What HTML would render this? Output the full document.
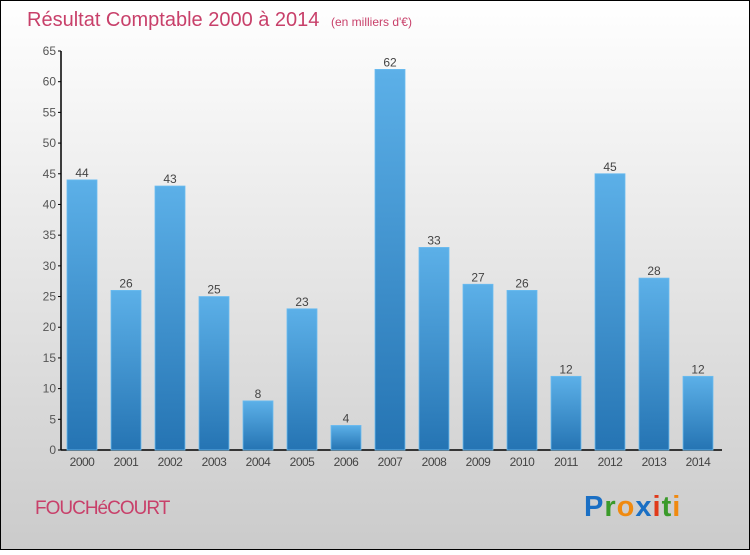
<!DOCTYPE html>
<html><head><meta charset="utf-8"><style>
html,body{margin:0;padding:0}
body{width:750px;height:550px;overflow:hidden;font-family:"Liberation Sans",sans-serif}
</style></head><body>
<svg width="750" height="550" xmlns="http://www.w3.org/2000/svg">
<defs>
<linearGradient id="bg" x1="0" y1="0" x2="0" y2="1"><stop offset="0" stop-color="#ffffff"/><stop offset="1" stop-color="#cbcbcb"/></linearGradient>
<linearGradient id="bar" x1="0" y1="0" x2="0" y2="1"><stop offset="0" stop-color="#5cb0e8"/><stop offset="1" stop-color="#2574b3"/></linearGradient>
</defs>
<rect x="0.5" y="0.5" width="749" height="549" fill="url(#bg)" stroke="#000"/>
<text x="27" y="26" font-size="20" fill="#c8406a">Résultat Comptable 2000 à 2014 <tspan font-size="12" dx="6">(en milliers d'€)</tspan></text>
<g id="axes"></g>
<g id="bars"></g>
<text x="35" y="514" font-size="19" fill="#c8406a" letter-spacing="-1">FOUCHéCOURT</text>
<g font-size="29" font-weight="bold" font-family="'Liberation Sans',sans-serif">
<text x="584" y="516" letter-spacing="1"><tspan fill="#1a6fc4">P</tspan><tspan fill="#3a9a2a">r</tspan><tspan fill="#f08a10">o</tspan><tspan fill="#1a6fc4">x</tspan><tspan fill="#e03a1a">i</tspan><tspan fill="#3a9a2a">t</tspan><tspan fill="#f08a10">i</tspan></text>
</g>
</svg>
<script>
const years=["2000","2001","2002","2003","2004","2005","2006","2007","2008","2009","2010","2011","2012","2013","2014"];
const values=[44,26,43,25,8,23,4,62,33,27,26,12,45,28,12];
const yTicks=[0,5,10,15,20,25,30,35,40,45,50,55,60,65];
const NS="http://www.w3.org/2000/svg";
const y0=450,yTop=51,yMax=65;
function yScale(v){return y0-(v/yMax)*(y0-yTop);}
function xScale(i){return 67+44*i;}
function mk(tag,attrs,parent){const e=document.createElementNS(NS,tag);for(const k in attrs)e.setAttribute(k,attrs[k]);parent.appendChild(e);return e;}
const axes=document.getElementById('axes'),bars=document.getElementById('bars');
let l=mk('line',{x1:61,y1:yTop,x2:61,y2:y0,stroke:'#000','stroke-width':1.5},axes);


l=mk('line',{x1:61,y1:y0,x2:722,y2:y0,stroke:'#000','stroke-width':1.5},axes);


yTicks.forEach(t=>{const y=yScale(t);
const tk=mk('line',{x1:58,y1:y,x2:61,y2:y,stroke:'#000'},axes);


const tx=mk('text',{x:56,y:y+4,'font-size':12,fill:'#555','text-anchor':'end'},axes);tx.textContent=t;


});
years.forEach((yr,i)=>{const x=xScale(i),v=values[i],y=yScale(v);
const r=mk('rect',{x:x,y:y,width:30,height:y0-y,fill:'url(#bar)',stroke:'#6bbcf0','stroke-width':0.8},bars);


const vl=mk('text',{x:x+15,y:y-3,'font-size':12,fill:'#444','text-anchor':'middle'},bars);vl.textContent=v;


const xl=mk('text',{x:x+15,y:466,'font-size':12,fill:'#444','text-anchor':'middle','letter-spacing':'-0.5'},bars);xl.textContent=yr;


});
</script>
</body></html>
